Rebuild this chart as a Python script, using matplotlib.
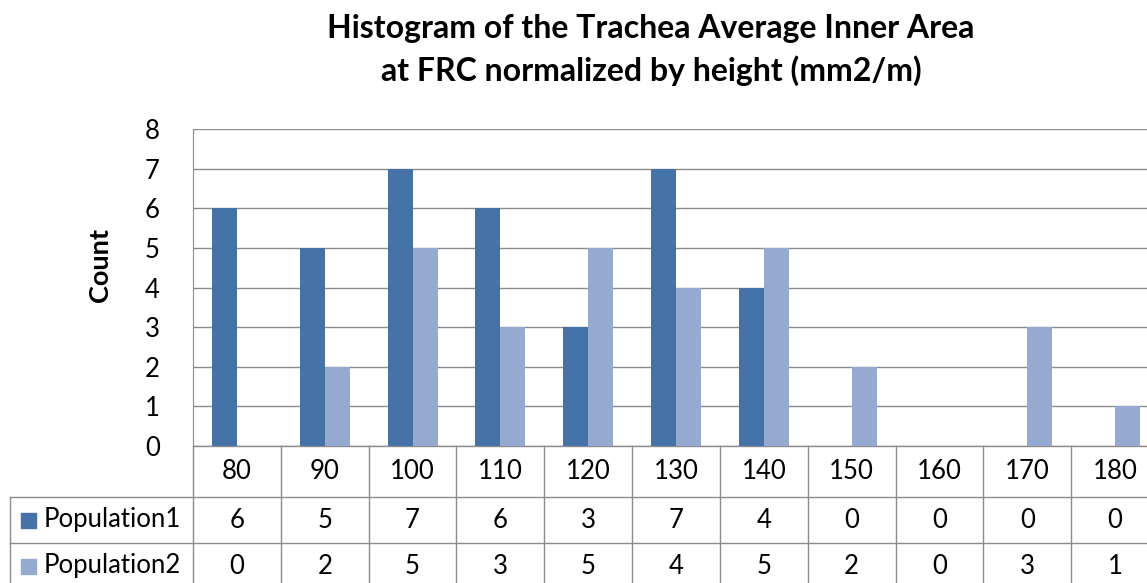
import numpy as np
import matplotlib.pyplot as plt
import matplotlib.transforms as mtransforms
from matplotlib.patches import Rectangle

categories = ['80', '90', '100', '110', '120', '130', '140', '150', '160', '170', '180']
population1 = [6, 5, 7, 6, 3, 7, 4, 0, 0, 0, 0]
population2 = [0, 2, 5, 3, 5, 4, 5, 2, 0, 3, 1]
series_names = ['Population1', 'Population2']
colors = ['#4572A7', '#95A9D1']
grid_color = '#8C8C8C'

plt.rcParams['font.family'] = ['Lato', 'DejaVu Sans']

W, H = 1147, 583
fig = plt.figure(figsize=(W / 100, H / 100), dpi=100)

# plot area in pixels: left 193, right 1159 (cut off by the image edge), top 129, bottom 446
ax = fig.add_axes([193 / W, 1 - 446 / H, (1159 - 193) / W, (446 - 129) / H])

x = np.arange(len(categories))
width = 0.285
ax.bar(x - width / 2, population1, width, color=colors[0], zorder=3)
ax.bar(x + width / 2, population2, width, color=colors[1], zorder=3)

ax.set_xlim(-0.5, len(categories) - 0.5)
ax.set_ylim(0, 8)
ax.set_yticks(range(0, 9))
ax.yaxis.grid(True, color=grid_color, linewidth=1)
ax.set_axisbelow(True)
ax.set_xticks([])
for side in ['top', 'right', 'bottom']:
    ax.spines[side].set_visible(False)
ax.spines['left'].set_color(grid_color)
ax.tick_params(axis='y', length=0, labelsize=18.5, pad=24)

fig.text(100 / W, 1 - 265 / H, 'Count', rotation=90, ha='center', va='center',
         fontsize=19.5, fontweight='bold')
fig.text(651 / W, 1 - 50 / H,
         'Histogram of the Trachea Average Inner Area\nat FRC normalized by height (mm2/m)',
         ha='center', va='center', fontsize=23, fontweight='bold', linespacing=1.45)

# data table below the axes
ph = 446 - 129
def yf(py):
    return -(py - 446) / ph

trans = mtransforms.blended_transform_factory(ax.transData, ax.transAxes)
ftrans = mtransforms.blended_transform_factory(fig.transFigure, ax.transAxes)
lw = 1
y_hdr, y_r1, y_r2 = yf(497), yf(543), yf(600)

# horizontal lines
ax.plot([-0.5, len(categories) - 0.5], [0, 0], transform=trans, color=grid_color, lw=lw, clip_on=False)
for yy in [y_hdr, y_r1]:
    ax.plot([10 / W, 1.0], [yy, yy], transform=ftrans, color=grid_color, lw=lw, clip_on=False)
# vertical lines
ax.plot([10 / W, 10 / W], [y_hdr, y_r2], transform=ftrans, color=grid_color, lw=lw, clip_on=False)
for b in np.arange(len(categories) + 1) - 0.5:
    ax.plot([b, b], [0, y_r2], transform=trans, color=grid_color, lw=lw, clip_on=False)

fs = 18.5
for i, c in enumerate(categories):
    ax.text(i, (0 + y_hdr) / 2, c, transform=trans, ha='center', va='center', fontsize=fs, clip_on=False)
    ax.text(i, (y_hdr + y_r1) / 2, str(population1[i]), transform=trans, ha='center', va='center',
            fontsize=fs, clip_on=False)
    ax.text(i, yf(566), str(population2[i]), transform=trans, ha='center', va='center',
            fontsize=fs, clip_on=False)

for name, col, ypix in [(series_names[0], colors[0], 520), (series_names[1], colors[1], 566)]:
    fig.patches.append(Rectangle((21 / W, 1 - (ypix + 7.5) / H), 15 / W, 15 / H,
                                 transform=fig.transFigure, color=col))
    fig.text(44 / W, 1 - ypix / H, name, ha='left', va='center', fontsize=fs)

fig.savefig('out.png', dpi=100)
